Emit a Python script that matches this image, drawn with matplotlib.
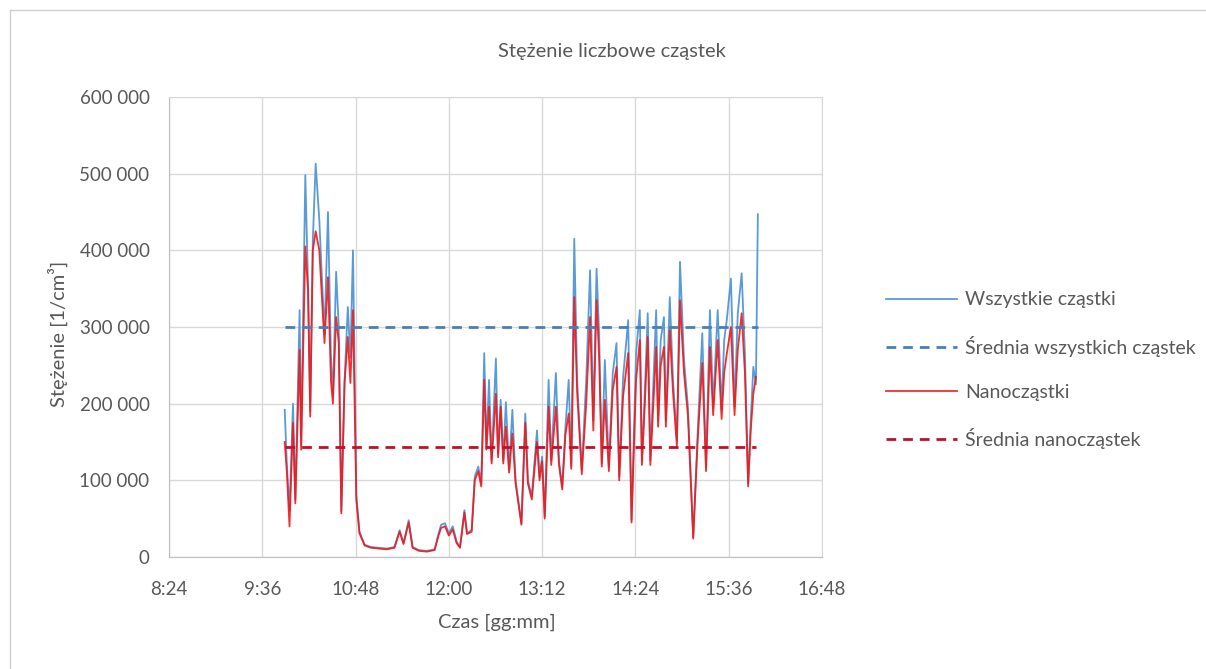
import matplotlib
matplotlib.use("Agg")
import matplotlib.pyplot as plt
import numpy as np
from matplotlib.ticker import FuncFormatter, MultipleLocator
from matplotlib.lines import Line2D

# ---- data (time in minutes after 8:24, concentration in thousands 1/cm3) ----
t_offset = [89.3, 91, 93, 95.7, 97.5, 100.8, 102, 105.2, 107.3, 109, 111, 113.2, 116, 120,
            122.7, 125, 126.5, 129, 131, 133, 135.5, 138, 140, 142, 144.6, 147, 151, 156,
            162, 168, 174, 178, 181, 185, 188, 193, 199, 205, 208, 210, 213, 216, 219, 222,
            224.6, 228, 230, 233.6, 236, 238.7, 241, 243.3, 245, 247, 249, 252.3, 254, 256,
            258, 260, 262.5, 265, 267.5, 272, 275, 277, 280, 284, 286, 288, 290, 293, 295,
            298.6, 301, 303.5, 306, 308.5, 310.5, 312.8, 315, 318.6, 322, 325, 327.5, 330,
            332, 334, 336.4, 339.5, 342.5, 345.4, 347.5, 350.5, 354.4, 357, 360.5, 363.4,
            365, 367, 369.5, 371.5, 376, 377.5, 379.5, 382, 383.5, 386.5, 389, 392, 394.4,
            397.5, 400.5, 404.6, 408, 411.6, 414.5, 417.5, 420, 423.5, 426.5, 428.5, 430.5,
            433.7, 436.5, 439, 442, 444.5, 447, 449, 451, 453, 454.5]

all_particles = [192, 120, 60, 200, 75, 322, 145, 498, 357, 190, 413, 513, 440, 290,
                 450, 261, 210, 372, 300, 60, 230, 326, 260, 400, 80, 33, 16, 13,
                 12, 11, 13, 35, 18, 48, 13, 9, 8, 10, 30, 42, 44, 31, 40, 20,
                 13, 61, 31, 35, 105, 118, 96, 266, 144, 231, 126, 259, 135, 205,
                 126, 202, 113, 192, 100, 44, 187, 100, 79, 165, 105, 131, 53, 231, 126,
                 240, 126, 92, 170, 231, 118, 415, 231, 113, 231, 374, 178, 376,
                 290, 122, 257, 118, 240, 279, 105, 235, 309, 48, 266, 322,
                 126, 205, 318, 126, 322, 178, 283, 313, 178, 339, 231, 152, 385,
                 257, 196, 26, 161, 292, 118, 322, 196, 322, 192, 283, 309,
                 363, 196, 318, 370, 266, 96, 178, 248, 225, 447]

nanoparticles = [150, 110, 40, 175, 70, 270, 140, 405, 348, 183, 400, 425, 400, 279,
                 365, 230, 200, 313, 280, 57, 227, 287, 227, 322, 74, 31, 15, 12,
                 11, 10, 12, 33, 17, 45, 12, 8, 7, 9, 28, 38, 40, 28, 36, 18,
                 12, 58, 30, 33, 100, 112, 92, 231, 140, 196, 122, 213, 130, 196,
                 122, 170, 110, 161, 96, 42, 175, 96, 75, 150, 100, 125, 50, 196, 120,
                 196, 120, 88, 160, 187, 115, 339, 215, 108, 200, 313, 165, 335,
                 260, 118, 205, 112, 218, 248, 100, 210, 266, 45, 231, 283,
                 120, 190, 287, 120, 274, 170, 250, 274, 170, 296, 215, 145, 335,
                 240, 185, 24, 150, 253, 112, 274, 185, 283, 180, 240, 265,
                 300, 185, 270, 318, 240, 92, 165, 213, 235, np.nan]

mean_all = 300000
mean_nano = 143000

x_start, x_end = 8 * 60 + 24, 16 * 60 + 48
tick_step = 72

labels = ["Wszystkie cząstki", "Średnia wszystkich cząstek", "Nanocząstki", "Średnia nanocząstek"]
title = "Stężenie liczbowe cząstek"
xlabel = "Czas [gg:mm]"
ylabel = "Stężenie [1/cm³]"

# ---- plotting ----
plt.rcParams['font.family'] = ['Lato', 'DejaVu Sans']
txt = '#595959'

t = np.array(t_offset) + x_start
ya = np.array(all_particles, dtype=float) * 1000
yn = np.array(nanoparticles, dtype=float) * 1000

fig = plt.figure(figsize=(12.06, 6.69), dpi=100)
ax = fig.add_axes([169 / 1206, 1 - 557 / 669, (822 - 169) / 1206, (557 - 97) / 669])

ax.plot(t, ya, color='#5B9BD5', lw=1.3, label=labels[0], zorder=3)
ax.plot([t[0], t[-1]], [mean_all, mean_all], color='#4A7FB5', lw=2.0,
        ls=(0, (3.5, 2.5)), label=labels[1], zorder=5)
ax.plot(t, yn, color='#F01818', lw=1.3, alpha=0.9, label=labels[2], zorder=4)
ax.plot([t[0], t[-1] - 1.5], [mean_nano, mean_nano], color='#C0102A', lw=2.0,
        ls=(0, (3.5, 2.5)), label=labels[3], zorder=6)

ax.set_xlim(x_start, x_end)
ax.set_ylim(0, 600000)
ax.xaxis.set_major_locator(MultipleLocator(tick_step))
ax.yaxis.set_major_locator(MultipleLocator(100000))
ax.xaxis.set_major_formatter(FuncFormatter(lambda v, p: f"{int(v)//60}:{int(v)%60:02d}"))
ax.yaxis.set_major_formatter(FuncFormatter(lambda v, p: f"{int(v):,}".replace(",", " ")))
ax.grid(True, color='#D9D9D9', lw=1.0, zorder=0)
ax.set_axisbelow(True)
for s in ['top', 'right']:
    ax.spines[s].set_color('#D9D9D9')
for s in ['left', 'bottom']:
    ax.spines[s].set_color('#BFBFBF')
ax.tick_params(length=0, colors=txt, labelsize=13.5)
ax.tick_params(axis='x', pad=17)
ax.tick_params(axis='y', pad=14)

ax.set_xlabel(xlabel, color=txt, fontsize=14.5, va='center')
ax.set_ylabel(ylabel, color=txt, fontsize=14.5, va='center', ha='center')
ax.xaxis.set_label_coords((497 - 169) / 653, (557 - 622) / 460)
ax.yaxis.set_label_coords((58 - 169) / 653, (557 - 334) / 460)
fig.text(612 / 1206, 1 - 51 / 669, title, ha='center', va='center', color=txt, fontsize=14.5)

leg = fig.legend(loc='upper left', bbox_to_anchor=(868 / 1206, 1 - 274 / 669),
                 frameon=False, fontsize=14, labelcolor=txt, handlelength=3.7,
                 labelspacing=1.4, handletextpad=0.4)

# chart area border
fig.add_artist(Line2D([10 / 1206, 1], [1 - 10 / 669, 1 - 10 / 669], color='#D0D0D0', lw=1))
fig.add_artist(Line2D([10 / 1206, 10 / 1206], [0, 1 - 10 / 669], color='#D0D0D0', lw=1))

fig.savefig('out.png', dpi=100)
